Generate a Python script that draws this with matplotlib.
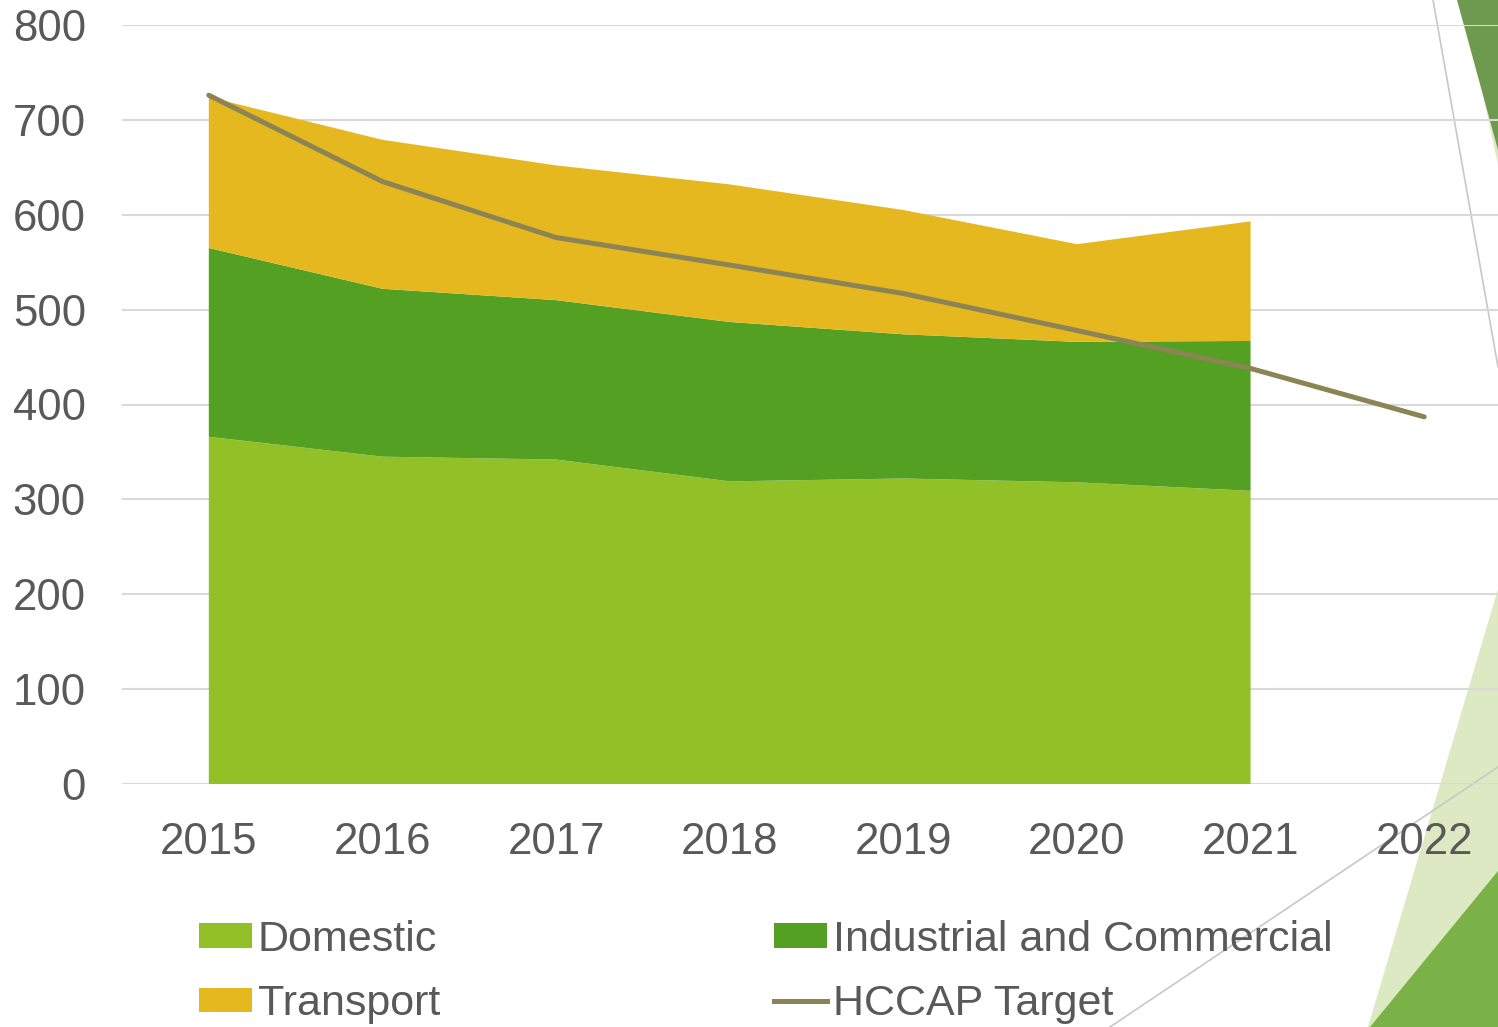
import numpy as np
import matplotlib
matplotlib.use("Agg")
import matplotlib.pyplot as plt
from matplotlib.patches import Polygon, Patch
from matplotlib.lines import Line2D

# --- data ---
years = ["2015", "2016", "2017", "2018", "2019", "2020", "2021", "2022"]
domestic = [366, 345, 342, 319, 322, 318, 309]
industrial = [199, 177, 168, 168, 152, 148, 158]
transport = [159, 157, 142, 145, 131, 103, 126]
target = [726, 635, 576, 547, 517, 478, 438, 387]

c_dom = "#92c127"
c_ind = "#53a022"
c_tra = "#e5b81f"
c_tgt = "#8c8455"
grey_txt = "#595959"

plt.rcParams["font.family"] = ["Liberation Sans", "DejaVu Sans"]

W, H = 1498, 1027
fig = plt.figure(figsize=(W / 100, H / 100), dpi=100)

# --- slide decoration on the right edge (figure pixel coords) ---
def fig_poly(pts, color):
    xy = [(x / W, 1 - y / H) for x, y in pts]
    fig.patches.append(Polygon(xy, closed=True, transform=fig.transFigure,
                               facecolor=color, edgecolor="none", zorder=-2))

def fig_line(p0, p1):
    fig.lines.append(Line2D([p0[0] / W, p1[0] / W], [1 - p0[1] / H, 1 - p1[1] / H],
                            transform=fig.transFigure, color="#c8c8c8", lw=1.2, zorder=-1))

fig_poly([(1482, 90), (1498, 115), (1498, 165)], "#dde9c3")
fig_poly([(1457, 0), (1498, 0), (1498, 150)], "#6e9a4f")
fig_poly([(1368, 1027), (1498, 589), (1498, 1027)], "#dde9c3")
fig_poly([(1370, 1027), (1498, 871), (1498, 1027)], "#7ab247")
fig_line((1433, 0), (1498, 367))
fig_line((1110, 1027), (1498, 767))

# --- chart ---
left, right = 122 / W, 1511 / W
bottom, top = 1 - 784 / H, 1 - 25 / H
ax = fig.add_axes([left, bottom, right - left, top - bottom])
ax.patch.set_alpha(0)
ax.set_zorder(1)

x_area = np.arange(len(domestic))
x_line = np.arange(len(target))

ax.stackplot(x_area, domestic, industrial, transport,
             colors=[c_dom, c_ind, c_tra], linewidth=0, zorder=2)
ax.plot(x_line, target, color=c_tgt, lw=3.6, solid_capstyle="round",
        solid_joinstyle="round", zorder=3)

ax.set_xlim(-0.5, len(years) - 0.5)
ax.set_ylim(0, 800)
ax.set_yticks(range(0, 801, 100))
ax.set_xticks(x_line)
ax.set_xticklabels(years)
ax.grid(axis="y", color="#d9d9d9", lw=1.5, zorder=1)
ax.set_axisbelow(True)
for s in ax.spines.values():
    s.set_visible(False)
ax.tick_params(axis="both", length=0, labelsize=31.5, colors=grey_txt)
ax.tick_params(axis="y", pad=26)
ax.tick_params(axis="x", pad=27)

handles = [Patch(facecolor=c_dom), Patch(facecolor=c_tra),
           Patch(facecolor=c_ind), Line2D([], [], color=c_tgt, lw=3.6)]
labels = ["Domestic", "Transport", "Industrial and Commercial", "HCCAP Target"]
leg = fig.legend(handles, labels, ncol=2, loc="upper left",
                 bbox_to_anchor=(199 / W, 1 - 920 / H), frameon=False,
                 fontsize=31, handlelength=1.22, handleheight=0.5,
                 handletextpad=0.15, columnspacing=7.75, labelspacing=0.56,
                 borderaxespad=0, borderpad=0)
leg.set_zorder(2)
for t in leg.get_texts():
    t.set_color(grey_txt)

fig.savefig("out.png", dpi=100)
